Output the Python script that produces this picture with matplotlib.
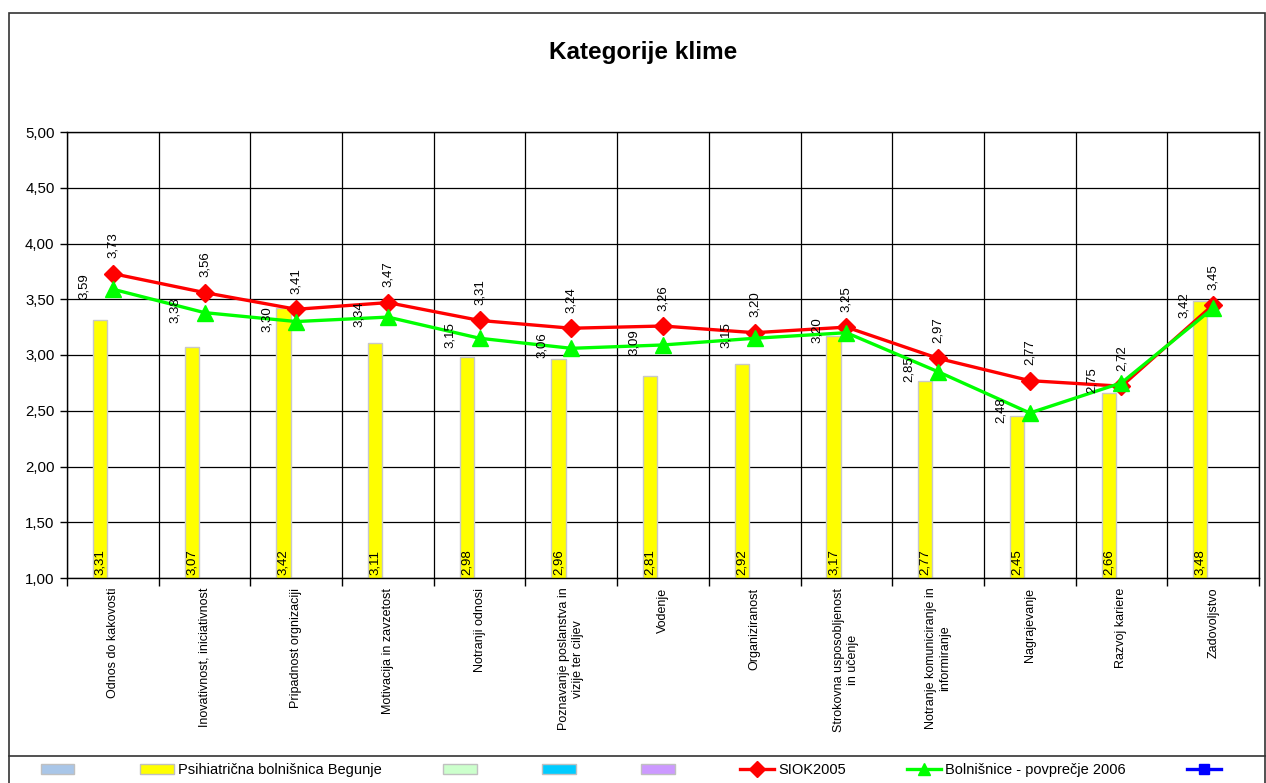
import numpy as np
import matplotlib
matplotlib.use("Agg")
import matplotlib.pyplot as plt
from matplotlib.patches import Patch, Rectangle
from matplotlib.lines import Line2D

plt.rcParams['font.family'] = ['Liberation Sans', 'DejaVu Sans']

categories = ['Odnos do kakovosti', 'Inovativnost, iniciativnost', 'Pripadnost orgnizaciji',
              'Motivacija in zavzetost', 'Notranji odnosi',
              'Poznavanje poslanstva in\nvizije ter ciljev', 'Vodenje', 'Organiziranost',
              'Strokovna usposobljenost\nin učenje', 'Notranje komuniciranje in\ninformiranje',
              'Nagrajevanje', 'Razvoj kariere', 'Zadovoljstvo']
begunje = [3.31, 3.07, 3.42, 3.11, 2.98, 2.96, 2.81, 2.92, 3.17, 2.77, 2.45, 2.66, 3.48]
siok2005 = [3.73, 3.56, 3.41, 3.47, 3.31, 3.24, 3.26, 3.20, 3.25, 2.97, 2.77, 2.72, 3.45]
bolnisnice = [3.59, 3.38, 3.30, 3.34, 3.15, 3.06, 3.09, 3.15, 3.20, 2.85, 2.48, 2.75, 3.42]
yticks = [1.0, 1.5, 2.0, 2.5, 3.0, 3.5, 4.0, 4.5, 5.0]

W, H = 1266, 783
fig = plt.figure(figsize=(W / 100, H / 100), dpi=100)
ax = fig.add_axes([67 / W, 1 - 578 / H, (1259 - 67) / W, (578 - 132) / H])

def fmt(v):
    return f'{v:.2f}'.replace('.', ',')

x = np.arange(len(categories))
bar_off = -0.14
ax.bar(x + bar_off, begunje, width=0.155, bottom=0, color='#FFFF00',
       edgecolor='#C8C8C8', linewidth=1, zorder=2)
ax.plot(x, siok2005, color='#FF0000', lw=2.4, marker='D', ms=9, zorder=4)
ax.plot(x, bolnisnice, color='#00FF00', lw=2.4, marker='^', ms=11, zorder=5)

for i in x:
    ax.annotate(fmt(begunje[i]), (i + bar_off, 1.0), xytext=(0, 2), textcoords='offset points',
                rotation=90, ha='center', va='bottom', fontsize=9.5, zorder=6)
    ax.annotate(fmt(siok2005[i]), (i, siok2005[i]), xytext=(0, 11), textcoords='offset points',
                rotation=90, ha='center', va='bottom', fontsize=9.5, zorder=6)
    ax.annotate(fmt(bolnisnice[i]), (i, bolnisnice[i]), xytext=(-21, 2), textcoords='offset points',
                rotation=90, ha='center', va='center', fontsize=9.5, zorder=6)

ax.set_ylim(1, 5)
ax.set_xlim(-0.5, len(categories) - 0.5)
ax.set_yticks(yticks)
ax.set_yticklabels([fmt(v) for v in yticks], fontsize=10.8)
ax.set_xticks(x)
ax.set_xticklabels(categories, rotation=90, va='top', ha='center',
                   multialignment='center', fontsize=9)
ax.set_xticks(np.arange(-0.5, len(categories)), minor=True)
ax.tick_params(axis='x', which='major', length=0, pad=7)
ax.tick_params(axis='x', which='minor', length=6, width=1, direction='out')
ax.tick_params(axis='y', length=5, width=1, direction='out', pad=4)
ax.grid(axis='y', which='major', color='black', lw=0.9)
ax.grid(axis='x', which='minor', color='black', lw=0.9)
ax.set_axisbelow(True)
for s in ax.spines.values():
    s.set_color('black')
    s.set_linewidth(1)

fig.text(643 / W, 1 - 52 / H, 'Kategorije klime', ha='center', va='center',
         fontsize=17.5, fontweight='bold')

# chart frame and legend box
fig.add_artist(Rectangle((9 / W, -0.05), (1265 - 9) / W, 1 - 13 / H + 0.05,
                         transform=fig.transFigure, fill=False, ec='#333333', lw=1.2))
fig.add_artist(Line2D([9 / W, 1265 / W], [1 - 756 / H] * 2, transform=fig.transFigure,
                      color='#333333', lw=1.2))

handles = [Patch(fc='#A9C6E8', ec='#C0C0C0'),
           Patch(fc='#FFFF00', ec='#C0C0C0'),
           Patch(fc='#CCFFCC', ec='#C0C0C0'),
           Patch(fc='#00CCFF', ec='#C0C0C0'),
           Patch(fc='#CC99FF', ec='#C0C0C0'),
           Line2D([], [], color='#FF0000', lw=2.4, marker='D', ms=8),
           Line2D([], [], color='#00FF00', lw=2.4, marker='^', ms=9),
           Line2D([], [], color='#0000FF', lw=2.4, marker='s', ms=7)]
labels = ['', 'Psihiatrična bolnišnica Begunje', '', '', '', 'SIOK2005',
          'Bolnišnice - povprečje 2006', '']
fig.legend(handles, labels, ncol=8, loc='center', bbox_to_anchor=(0.5, 1 - 770 / H),
           frameon=False, columnspacing=4.2, handlelength=2.3, handletextpad=0.3,
           fontsize=10.5)

fig.savefig('out.png', dpi=100)
